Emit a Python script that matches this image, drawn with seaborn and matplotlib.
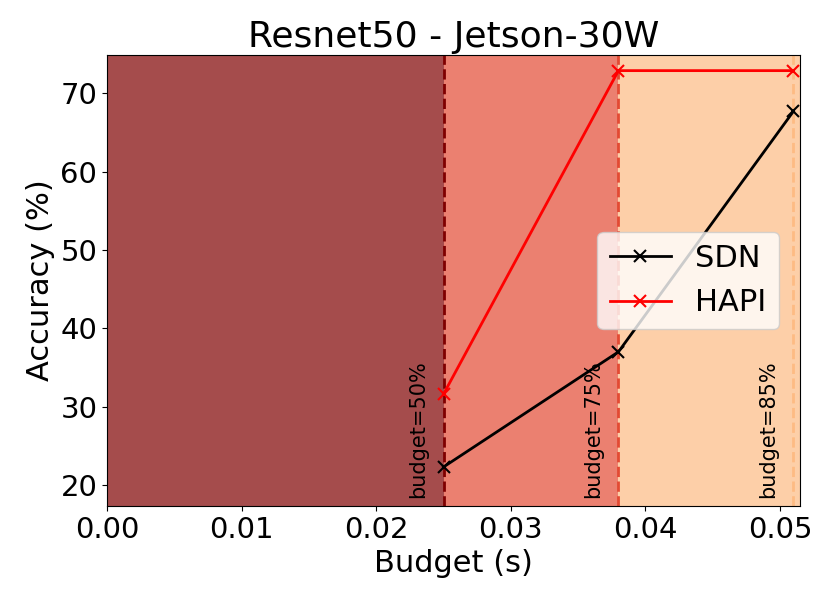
import matplotlib
matplotlib.use('Agg')
import matplotlib.pyplot as plt
import seaborn as sns

# values
budgets = [0.025, 0.038, 0.051]
budget_names = ['budget=50%', 'budget=75%', 'budget=85%']
sdn_acc = [22.3, 37.0, 67.7]
hapi_acc = [31.6, 72.9, 72.9]

span_colors = ['#7f0000', '#e34a33', '#fdbb84']

fig, ax = plt.subplots(figsize=(8.3, 6.04), dpi=100)
fig.subplots_adjust(left=0.129, right=0.964, top=0.909, bottom=0.162)

# shaded budget regions
edges = [0.0] + budgets[:2] + [0.06]
for i in range(3):
    ax.axvspan(edges[i], edges[i + 1], color=span_colors[i], alpha=0.7, lw=0)
    ax.axvline(budgets[i], color=span_colors[i], linestyle='--', lw=2)
    ax.text(budgets[i] - 0.0019, 18.3, budget_names[i], rotation=90,
            ha='center', va='bottom', fontsize=15)

for acc, name, col in [(sdn_acc, 'SDN', 'black'), (hapi_acc, 'HAPI', 'red')]:
    sns.lineplot(x=budgets, y=acc, color=col, label=name, marker='x',
                 markersize=9, markeredgewidth=1.5, markeredgecolor=col,
                 lw=2, ax=ax)

ax.set_xlim(0, 0.0515)
ax.set_ylim(17.3, 74.9)
ax.set_xticks([0.0, 0.01, 0.02, 0.03, 0.04, 0.05])
ax.set_xticklabels(['0.00', '0.01', '0.02', '0.03', '0.04', '0.05'])
ax.tick_params(labelsize=21)
ax.set_xlabel('Budget (s)', fontsize=22)
ax.set_ylabel('Accuracy (%)', fontsize=22)
ax.set_title('Resnet50 - Jetson-30W', fontsize=26)
ax.legend(loc='center right', fontsize=22, borderaxespad=0.7)

plt.savefig('out.png', dpi=100)
